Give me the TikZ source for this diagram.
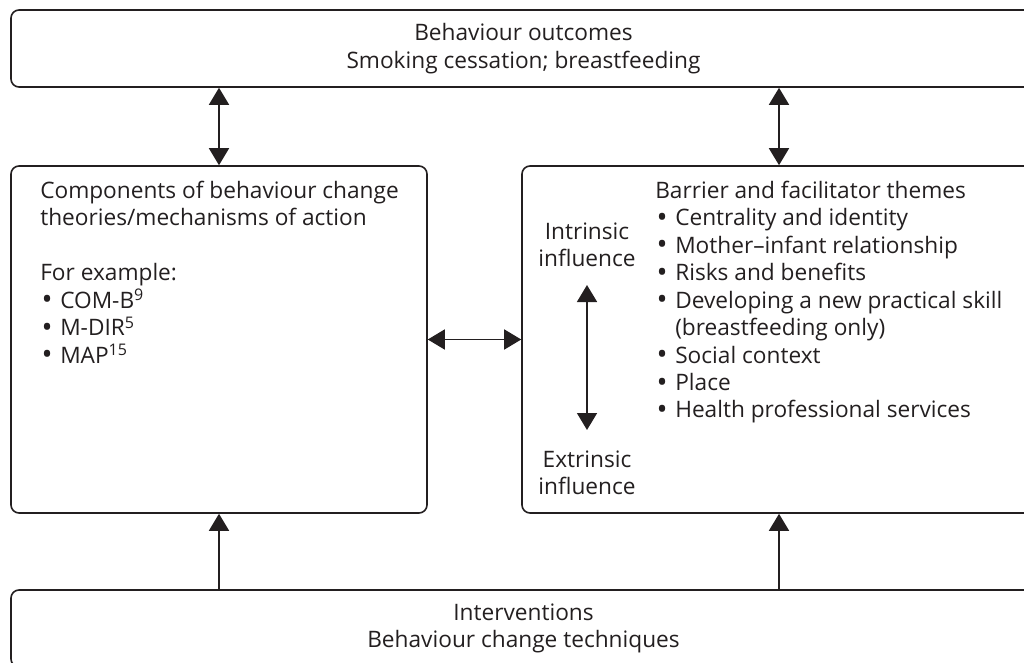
\documentclass[tikz,border=0pt]{standalone}
\usepackage{fontspec}
\setmainfont{Open Sans}
\usetikzlibrary{arrows.meta}
\definecolor{ink}{HTML}{231F20}
\newcommand\bulx{\makebox[15pt][l]{\hspace{1pt}\raisebox{-1.2pt}{\fontsize{22}{0}\selectfont•}}}
\newcommand\supx[1]{\raisebox{5.5pt}{\fontsize{12}{12}\selectfont #1}}
\begin{document}
\begin{tikzpicture}[x=0.75pt,y=-0.75pt,
  txt/.style={text=ink, inner sep=0pt, font=\fontsize{17}{20.6}\selectfont},
  box/.style={draw=ink, line width=1.2pt, rounded corners=6pt, inner sep=0pt, txt},
  tipped/.style={draw=ink, line width=1.2pt, -{Triangle[width=15pt,length=12.75pt]}},
  dbl/.style={draw=ink, line width=1.2pt, {Triangle[width=15pt,length=12.75pt]}-{Triangle[width=15pt,length=12.75pt]}}]
\useasboundingbox (0,0) rectangle (1024,663);
\clip (0,0) rectangle (1024,663);
% boxes
\node[box, minimum width=768.75pt, minimum height=57.75pt, align=center] (top) at (523.5,48.5)
  {Behaviour outcomes\\Smoking cessation; breastfeeding};
\node[box, minimum width=312pt, minimum height=260.25pt] (left) at (219,339.5) {};
\node[box, minimum width=385.5pt, minimum height=260.25pt] (right) at (779,339.5) {};
\node[box, minimum width=768.75pt, minimum height=57.75pt, align=center] (bot) at (523.5,628.5)
  {Interventions\\Behaviour change techniques};
% left box text
\node[txt, anchor=north west, align=left] (ltxt) at (40,179.3)
  {\rule{0pt}{14pt}Components of behaviour change\\
   theories/mechanisms of action\\[20.6pt]
   For example:\\
   \bulx COM-B\supx{9}\\
   \bulx M-DIR\supx{5}\\
   \bulx MAP\supx{15}};
% right box text
\node[txt, anchor=north west, align=left] (rtxt) at (655,179.3)
  {\rule{0pt}{14pt}Barrier and facilitator themes\\
   \bulx Centrality and identity\\
   \bulx Mother–infant relationship\\
   \bulx Risks and benefits\\
   \bulx Developing a new practical skill\\
   \hspace*{15pt}(breastfeeding only)\\
   \bulx Social context\\
   \bulx Place\\
   \bulx Health professional services};
\node[txt, align=center] (intr) at (587,245) {Intrinsic\\influence};
\node[txt, align=center] (extr) at (587,473) {Extrinsic\\influence};
\coordinate (ia) at (587,285);
\coordinate (ib) at (587,430);
% connectors
\draw[dbl] (ia) -- (ib);
\draw[dbl] (left.east) -- (right.west);
\draw[dbl] (top.south -| left.north) -- (left.north);
\draw[dbl] (top.south -| right.north) -- (right.north);
\draw[tipped] (bot.north -| left.south) -- (left.south);
\draw[tipped] (bot.north -| right.south) -- (right.south);
\end{tikzpicture}
\end{document}
